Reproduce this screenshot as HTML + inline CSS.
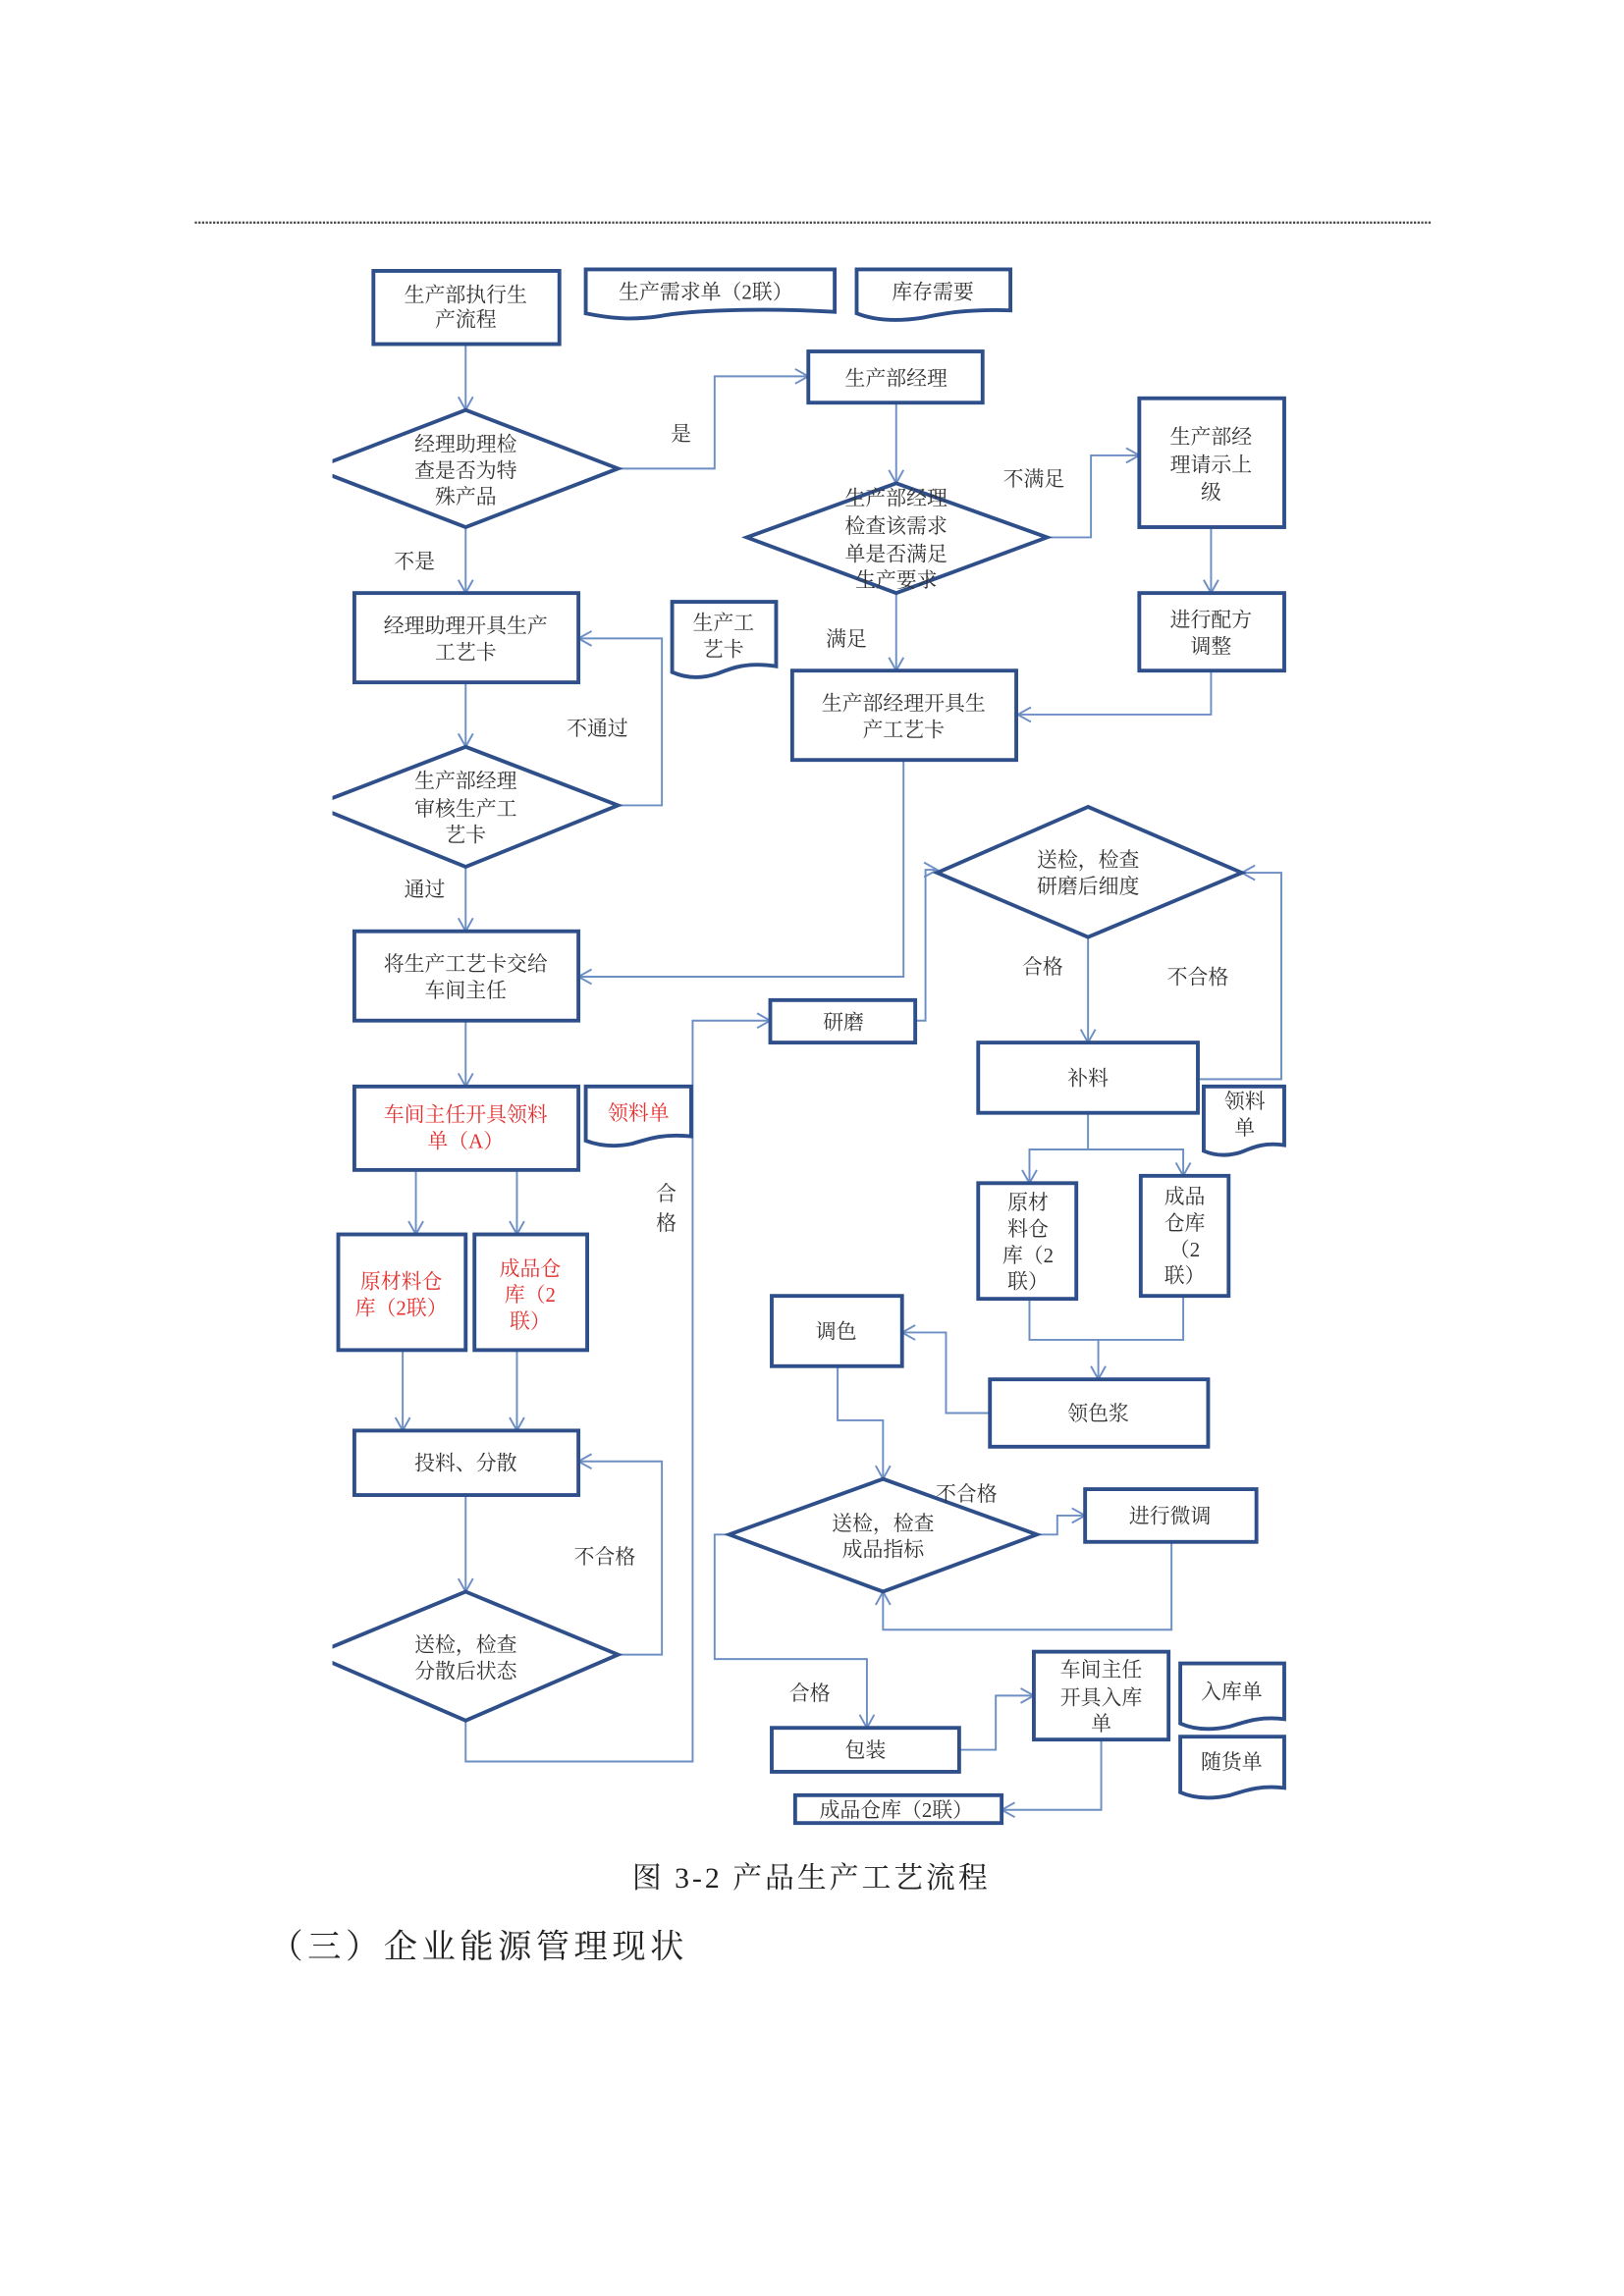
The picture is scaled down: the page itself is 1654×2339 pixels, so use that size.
<!DOCTYPE html>
<html><head><meta charset="utf-8"><style>
html,body{margin:0;padding:0;background:#fff;}
svg{display:block;}
text{font-family:"Liberation Serif","Noto Serif CJK SC","Noto Sans CJK SC",serif;fill:#333;font-size:14px;text-anchor:middle;}
.b{fill:#fff;stroke:#2f4f8a;stroke-width:2.6;}
.c{fill:none;stroke:#6d8fc4;stroke-width:1.3;}
.r{fill:#e53030;}
</style></head><body>
<svg width="1654" height="2339" viewBox="0 0 1109 1568" preserveAspectRatio="none" xmlns="http://www.w3.org/2000/svg">
<defs>
<marker id="a" markerWidth="12" markerHeight="12" refX="10" refY="6" orient="auto" markerUnits="userSpaceOnUse">
<path d="M1,1 L10,6 L1,11" fill="none" stroke="#6d8fc4" stroke-width="1.3"/>
</marker>
</defs>
<line x1="133" y1="152" x2="977" y2="152" stroke="#444" stroke-width="1.5" stroke-dasharray="1.5,1"/>

<path class="c" d="M318,235 V280" marker-end="url(#a)"/>
<path class="c" d="M422,320 H488 V257 H552" marker-end="url(#a)"/>
<path class="c" d="M612,275 V330" marker-end="url(#a)"/>
<path class="c" d="M715,367 H745 V311 H778" marker-end="url(#a)"/>
<path class="c" d="M827,360 V405" marker-end="url(#a)"/>
<path class="c" d="M827,458 V488 H695" marker-end="url(#a)"/>
<path class="c" d="M612,405 V458" marker-end="url(#a)"/>
<path class="c" d="M318,360 V405" marker-end="url(#a)"/>
<path class="c" d="M318,466 V510" marker-end="url(#a)"/>
<path class="c" d="M422,550 H452 V436 H395" marker-end="url(#a)"/>
<path class="c" d="M318,592 V636" marker-end="url(#a)"/>
<path class="c" d="M617,519 V667 H395" marker-end="url(#a)"/>
<path class="c" d="M625,697 H632 V594 H640" marker-end="url(#a)"/>
<path class="c" d="M743,640 V712" marker-end="url(#a)"/>
<path class="c" d="M818,737 H875 V596 H848" marker-end="url(#a)"/>
<path class="c" d="M743,760 V785 H703 V808" marker-end="url(#a)"/>
<path class="c" d="M743,785 H808 V803" marker-end="url(#a)"/>
<path class="c" d="M703,887 V915 H808 V885"/>
<path class="c" d="M750,915 V942" marker-end="url(#a)"/>
<path class="c" d="M676,965 H646 V910 H616" marker-end="url(#a)"/>
<path class="c" d="M572,933 V970 H603 V1010" marker-end="url(#a)"/>
<path class="c" d="M708,1048 H722 V1035 H741" marker-end="url(#a)"/>
<path class="c" d="M800,1053 V1113 H603 V1087" marker-end="url(#a)"/>
<path class="c" d="M498,1048 H488 V1133 H592 V1180" marker-end="url(#a)"/>
<path class="c" d="M655,1195 H680 V1158 H706" marker-end="url(#a)"/>
<path class="c" d="M752,1188 V1236 H684" marker-end="url(#a)"/>
<path class="c" d="M318,697 V742" marker-end="url(#a)"/>
<path class="c" d="M284,799 V843" marker-end="url(#a)"/>
<path class="c" d="M353,799 V843" marker-end="url(#a)"/>
<path class="c" d="M275,922 V977" marker-end="url(#a)"/>
<path class="c" d="M353,922 V977" marker-end="url(#a)"/>
<path class="c" d="M318,1021 V1087" marker-end="url(#a)"/>
<path class="c" d="M422,1130 H452 V998 H395" marker-end="url(#a)"/>
<path class="c" d="M318,1175 V1203 H473 V697 H526" marker-end="url(#a)"/>

<rect class="b" x="255" y="185" width="127" height="50"/>
<text x="318" y="206">生产部执行生</text><text x="318" y="223">产流程</text>
<rect class="b" x="552" y="240" width="119" height="35"/>
<text x="612" y="263">生产部经理</text>
<rect class="b" x="778" y="272" width="99" height="88"/>
<text x="827" y="303">生产部经</text><text x="827" y="322">理请示上</text><text x="827" y="341">级</text>
<rect class="b" x="778" y="405" width="99" height="53"/>
<text x="827" y="428">进行配方</text><text x="827" y="446">调整</text>
<rect class="b" x="541" y="458" width="153" height="61"/>
<text x="617" y="485">生产部经理开具生</text><text x="617" y="503">产工艺卡</text>
<rect class="b" x="242" y="405" width="153" height="61"/>
<text x="318" y="432">经理助理开具生产</text><text x="318" y="450">工艺卡</text>
<rect class="b" x="242" y="636" width="153" height="61"/>
<text x="318" y="663">将生产工艺卡交给</text><text x="318" y="681">车间主任</text>
<rect class="b" x="526" y="683" width="99" height="29"/>
<text x="576" y="703">研磨</text>
<rect class="b" x="668" y="712" width="150" height="48"/>
<text x="743" y="741">补料</text>
<rect class="b" x="668" y="808" width="67" height="79"/>
<text x="702" y="826">原材</text><text x="702" y="844">料仓</text><text x="702" y="862">库（2</text><text x="702" y="880">联）</text>
<rect class="b" x="779" y="803" width="60" height="82"/>
<text x="809" y="822">成品</text><text x="809" y="840">仓库</text><text x="809" y="858">（2</text><text x="809" y="876">联）</text>
<rect class="b" x="527" y="885" width="89" height="48"/>
<text x="571" y="914">调色</text>
<rect class="b" x="676" y="942" width="149" height="46"/>
<text x="750" y="970">领色浆</text>
<rect class="b" x="741" y="1017" width="117" height="36"/>
<text x="799" y="1040">进行微调</text>
<rect class="b" x="527" y="1180" width="128" height="30"/>
<text x="591" y="1200">包装</text>
<rect class="b" x="706" y="1128" width="92" height="60"/>
<text x="752" y="1145">车间主任</text><text x="752" y="1164">开具入库</text><text x="752" y="1182">单</text>
<rect class="b" x="543" y="1226" width="141" height="19"/>
<text x="612" y="1241">成品仓库（2联）</text>
<rect class="b" x="242" y="742" width="153" height="57"/>
<text class="r" x="318" y="766">车间主任开具领料</text><text class="r" x="318" y="784">单（A）</text>
<rect class="b" x="231" y="843" width="87" height="79"/>
<text class="r" x="274" y="880">原材料仓</text><text class="r" x="274" y="898">库（2联）</text>
<rect class="b" x="324" y="843" width="77" height="79"/>
<text class="r" x="362" y="871">成品仓</text><text class="r" x="362" y="889">库（2</text><text class="r" x="362" y="907">联）</text>
<rect class="b" x="242" y="977" width="153" height="44"/>
<text x="318" y="1004">投料、分散</text>

<path class="b" d="M400,184 H570 V213 C520,210 470,212 450,216 C430,219 415,217 400,214 Z"/>
<text x="482" y="204">生产需求单（2联）</text>
<path class="b" d="M585,184 H690 V212 C660,211 645,214 630,217 C610,220 595,218 585,214 Z"/>
<text x="637" y="204">库存需要</text>
<path class="b" d="M459,411 H530 V455 C510,452 500,456 490,460 C478,464 468,463 459,459 Z"/>
<text x="494" y="430">生产工</text><text x="494" y="448">艺卡</text>
<path class="b" d="M400,742 H472 V776 C452,774 442,778 432,781 C418,784 408,782 400,779 Z"/>
<text class="r" x="436" y="765">领料单</text>
<path class="b" d="M822,742 H877 V782 C862,780 855,784 847,787 C837,790 829,789 822,786 Z"/>
<text x="850" y="757">领料</text><text x="850" y="775">单</text>
<path class="b" d="M806,1136 H877 V1174 C860,1172 850,1176 840,1179 C826,1182 815,1181 806,1177 Z"/>
<text x="841" y="1160">入库单</text>
<path class="b" d="M806,1186 H877 V1221 C860,1219 850,1223 840,1226 C826,1229 815,1228 806,1224 Z"/>
<text x="841" y="1208">随货单</text>

<polygon class="b" points="318,280 422,320 318,360 214,320"/>
<polygon class="b" points="612,330 715,367 612,405 510,367"/>
<polygon class="b" points="318,510 422,550 318,592 214,550"/>
<polygon class="b" points="743,551 848,596 743,640 640,596"/>
<polygon class="b" points="603,1010 708,1048 603,1087 498,1048"/>
<polygon class="b" points="318,1087 422,1130 318,1175 214,1130"/>
<rect x="150" y="260" width="77" height="960" fill="#fff"/>

<text x="318" y="308">经理助理检</text><text x="318" y="326">查是否为特</text><text x="318" y="344">殊产品</text>
<text x="612" y="345">生产部经理</text><text x="612" y="364">检查该需求</text><text x="612" y="383">单是否满足</text><text x="612" y="401">生产要求</text>
<text x="318" y="538">生产部经理</text><text x="318" y="557">审核生产工</text><text x="318" y="575">艺卡</text>
<text x="743" y="592">送检，检查</text><text x="743" y="610">研磨后细度</text>
<text x="603" y="1045">送检，检查</text><text x="603" y="1063">成品指标</text>
<text x="318" y="1128">送检，检查</text><text x="318" y="1146">分散后状态</text>

<text x="465" y="301">是</text>
<text x="706" y="332">不满足</text>
<text x="578" y="441">满足</text>
<text x="283" y="388">不是</text>
<text x="408" y="502">不通过</text>
<text x="290" y="612">通过</text>
<text x="712" y="665">合格</text>
<text x="818" y="672">不合格</text>
<text x="660" y="1025">不合格</text>
<text x="553" y="1161">合格</text>
<text x="413" y="1068">不合格</text>
<text x="455" y="820">合</text><text x="455" y="840">格</text>

<text x="554" y="1289" style="font-size:20px;letter-spacing:2px;fill:#222">图 3-2  产品生产工艺流程</text>
<text x="184" y="1337" style="font-size:23px;letter-spacing:3px;fill:#222;text-anchor:start">（三）企业能源管理现状</text>
</svg>
</body></html>
